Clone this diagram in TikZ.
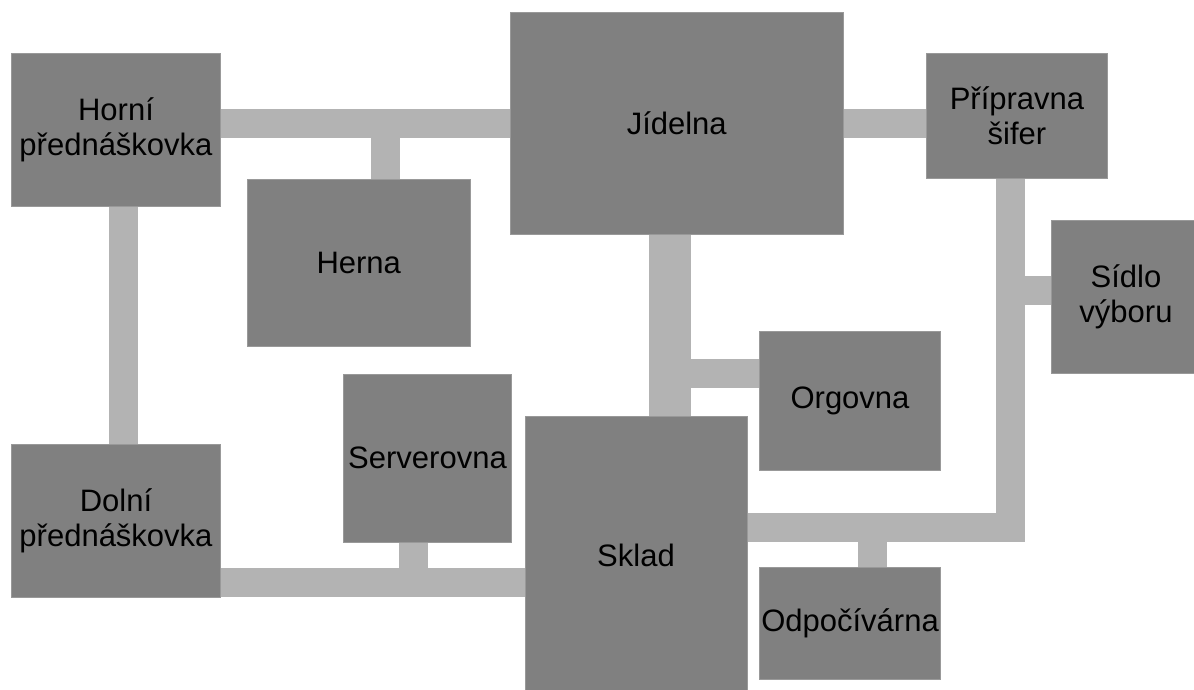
\documentclass[tikz,border=0pt]{standalone}
\usepackage{fontspec}
\setmainfont{Liberation Sans}
\usetikzlibrary{backgrounds}
\definecolor{roomfill}{HTML}{808080}
\definecolor{hallfill}{HTML}{B3B3B3}
\definecolor{roomedge}{HTML}{999999}
\tikzset{
  room/.style={fill=roomfill, draw=roomedge, line width=0.8pt, inner sep=0pt,
    align=center, font=\fontsize{31}{35}\selectfont, text=black},
  hall/.style={draw=hallfill, line width=#1},
  hall/.default=29pt
}
\begin{document}
\begin{tikzpicture}[x=1pt,y=-1pt]
\useasboundingbox (0,0) rectangle (1194,690);
% rooms
\node[room, minimum width=209pt, minimum height=152.5pt] (horni) at (116,129.75) {Horní\\přednáškovka};
\node[room, minimum width=332.5pt, minimum height=222pt] (jidelna) at (676.75,123) {Jídelna};
\node[room, minimum width=181pt, minimum height=125.5pt] (pripravna) at (1017,115.75) {Přípravna\\šifer};
\node[room, minimum width=222.5pt, minimum height=167pt] (herna) at (358.75,263) {Herna};
\node[room, minimum width=150pt, minimum height=152.5pt] (sidlo) at (1126,296.75) {Sídlo\\výboru};
\node[room, minimum width=181pt, minimum height=139.5pt] (orgovna) at (850,400.75) {Orgovna};
\node[room, minimum width=168pt, minimum height=167.5pt] (serverovna) at (427.5,458.25) {Serverovna};
\node[room, minimum width=222pt, minimum height=278pt] (sklad) at (636,555) {Sklad};
\node[room, minimum width=209pt, minimum height=153pt] (dolni) at (116,520.5) {Dolní\\přednáškovka};
\node[room, minimum width=181pt, minimum height=112pt] (odpoc) at (850,623.5) {Odpočívárna};
% corridor guide coordinates
\coordinate (tc) at (0,124);
\coordinate (hj) at (385.5,124);
\coordinate (hd) at (123.5,0);
\coordinate (pv) at (1010.5,0);
\coordinate (ph) at (0,527.5);
\coordinate (sh) at (0,290.5);
\coordinate (jv) at (670.3,0);
\coordinate (oh) at (0,373.6);
\coordinate (ov) at (872,0);
\coordinate (bh) at (0,582);
\coordinate (sv) at (413,0);
\begin{scope}[on background layer]
\draw[hall] (horni.east |- tc) -- (jidelna.west |- tc);
\draw[hall] (hj) -- (hj |- herna.north);
\draw[hall] (horni.south -| hd) -- (dolni.north -| hd);
\draw[hall] (jidelna.east |- tc) -- (pripravna.west |- tc);
\draw[hall, line join=miter] (pripravna.south -| pv) -- (pv |- ph) -- (sklad.east |- ph);
\draw[hall] (pv |- sh) -- (sidlo.west |- sh);
\draw[hall=42pt] (jidelna.south -| jv) -- (sklad.north -| jv);
\draw[hall] (jv |- oh) -- (orgovna.west |- oh);
\draw[hall] (ov |- ph) -- (odpoc.north -| ov);
\draw[hall] (dolni.east |- bh) -- (sklad.west |- bh);
\draw[hall] (serverovna.south -| sv) -- (sv |- bh);
\end{scope}
\end{tikzpicture}
\end{document}
